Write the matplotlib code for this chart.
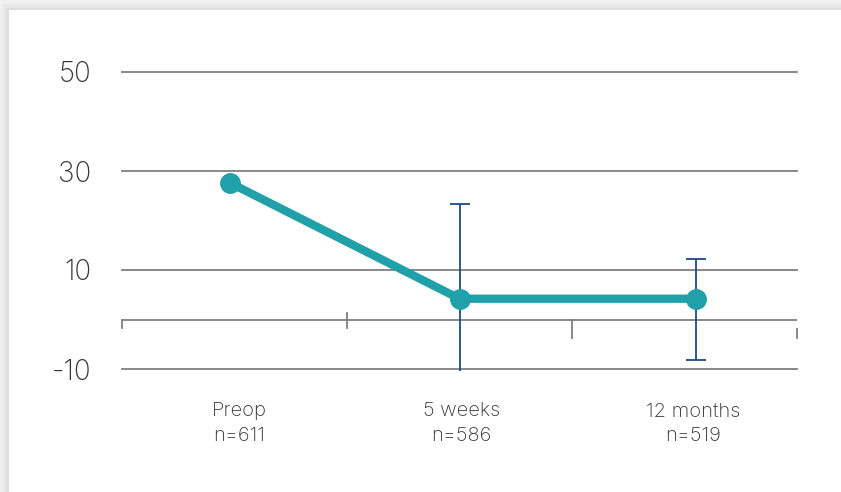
import matplotlib.pyplot as plt
from matplotlib.patches import Rectangle

# Datos: puntuación media por visita con extremos del intervalo
categories = ['Preop', '5 weeks', '12 months']
n_patients = [611, 586, 519]
means = [27.6, 4.2, 4.2]
ci_low = [None, -10.4, -8.2]
ci_high = [None, 23.3, 12.2]
y_ticks = [-10, 10, 30, 50]

# Posición horizontal de cada visita y de su rótulo dentro de la celda
x_pos = [0.48, 1.5, 2.55]
label_x = [0.52, 1.51, 2.54]

teal = '#20a0a8'
navy = '#1f4a86'
grid_gray = '#7f7f7f'
text_gray = '#333333'

plt.rcParams['font.family'] = ['Inter', 'DejaVu Sans']

fig = plt.figure(figsize=(8.41, 4.92), dpi=100)
fig.patch.set_facecolor('#f1f1f1')

# Tarjeta blanca con sombra suave
for i, a in enumerate([0.035, 0.025, 0.015]):
    fig.patches.append(Rectangle((9 / 841 - (i + 1) * 0.003, 0), 1.0, 1 - 10 / 492 + (i + 1) * 0.005,
                                 transform=fig.transFigure, facecolor='#000000', alpha=a,
                                 edgecolor='none', zorder=-3))
fig.patches.append(Rectangle((9 / 841, 0), 1.0, 1 - 10 / 492, transform=fig.transFigure,
                             facecolor='white', edgecolor='none', zorder=-2))

ax = fig.add_axes([122 / 841, 1 - 369 / 492, (797 - 122) / 841, (369 - 72) / 492])
ax.set_facecolor('none')
ax.set_xlim(0, 3)
ax.set_ylim(-10, 50)

for s in ax.spines.values():
    s.set_visible(False)

# Líneas horizontales de referencia y eje en cero
for yv in y_ticks:
    ax.axhline(yv, color=grid_gray, lw=1.3, zorder=1, clip_on=False)
ax.axhline(0, color=grid_gray, lw=1.3, zorder=1)

ax.set_yticks(y_ticks)
ax.set_yticklabels([str(v) for v in y_ticks])
ax.tick_params(axis='y', length=0, pad=22, labelsize=20, labelcolor=text_gray)

# Marcas del eje X en los límites de cada celda
tick_spans = [(0, -1.8), (1.3, -1.8), (0, -3.8), (-2.0, -3.8)]
for xb, (top, bot) in enumerate(tick_spans):
    ax.plot([xb, xb], [top, bot], color=grid_gray, lw=1.3, clip_on=False, zorder=1)
ax.set_xticks([])

# Barras de error
for x, lo, hi in zip(x_pos, ci_low, ci_high):
    if lo is None:
        continue
    ax.vlines(x, lo, hi, color=navy, lw=1.3, zorder=2, clip_on=False)
    for yc in (lo, hi):
        if yc > -10:
            ax.plot([x], [yc], marker='_', markersize=15, mew=1.3, color=navy, zorder=2)

# Línea de medias
ax.plot(x_pos, means, color=teal, lw=6, marker='o', markersize=14,
        solid_capstyle='round', zorder=3)

# Etiquetas de visita con tamaño de muestra
for x, cat, n in zip(label_x, categories, n_patients):
    ax.annotate(f'{cat}\nn={n}', xy=(x, 0), xycoords=('data', 'axes fraction'),
                xytext=(0, -24), textcoords='offset points', ha='center', va='top',
                fontsize=14.5, color=text_gray, linespacing=1.45, fontweight='light')

for lab in ax.get_yticklabels():
    lab.set_fontweight('light')

plt.savefig('out.png', dpi=100, facecolor=fig.get_facecolor())
